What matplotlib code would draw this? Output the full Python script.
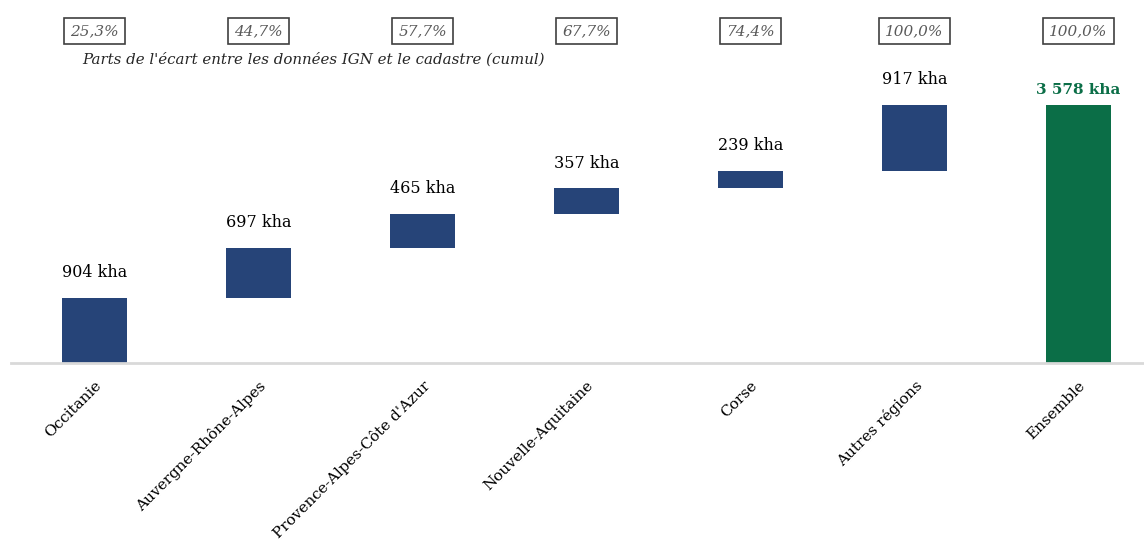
import numpy as np
import matplotlib.pyplot as plt
import matplotlib.transforms as mtransforms

# data
regions = ['Occitanie', 'Auvergne-Rhône-Alpes', "Provence-Alpes-Côte d'Azur",
           'Nouvelle-Aquitaine', 'Corse', 'Autres régions', 'Ensemble']
ecart_kha = [904, 697, 465, 357, 239, 917]
total_kha = 3578
parts_cumul = ['25,3%', '44,7%', '57,7%', '67,7%', '74,4%', '100,0%', '100,0%']

blue = '#264478'
green = '#0B6E47'
plt.rcParams['font.family'] = ['DejaVu Serif']

fig = plt.figure(figsize=(11.44, 5.43), dpi=100)
ax = fig.add_axes([11 / 1144, 180 / 543, 1 - 11 / 1144, 363 / 543])

x = np.arange(len(regions))
bottoms = np.concatenate([[0], np.cumsum(ecart_kha)[:-1]])
ax.bar(x[:-1], ecart_kha, bottom=bottoms, width=0.4, color=blue)
ax.bar(x[-1], total_kha, width=0.4, color=green)

for xi, b, v in zip(x[:-1], bottoms, ecart_kha):
    ax.annotate(f'{v} kha', (xi, b + v), xytext=(0, 12), textcoords='offset points',
                ha='center', va='bottom', fontsize=11.5)
tot = f'{total_kha:,}'.replace(',', ' ')
ax.annotate(f'{tot} kha', (x[-1], total_kha), xytext=(0, 6), textcoords='offset points',
            ha='center', va='bottom', fontsize=11, fontweight='bold', color=green)

ax.set_xlim(-0.51, 6.4)
ax.set_ylim(0, 363 / (258 / total_kha))
ax.set_yticks([])
for s in ['top', 'right', 'left']:
    ax.spines[s].set_visible(False)
ax.spines['bottom'].set_color('#D9D9D9')
ax.spines['bottom'].set_linewidth(2)
ax.set_xticks(x)
ax.set_xticklabels(regions, rotation=45, ha='right', rotation_mode='anchor', fontsize=11)
ax.tick_params(axis='x', length=0, pad=11)

# cumulative shares in boxes above the bars
trans = mtransforms.blended_transform_factory(ax.transData, fig.transFigure)
for xi, p in zip(x, parts_cumul):
    ax.text(xi, 1 - 31 / 543, p, transform=trans, ha='center', va='center',
            fontsize=11, style='italic', color='#595959',
            bbox=dict(boxstyle='square,pad=0.42', fc='white', ec='#404040', lw=1.2))
fig.text(313 / 1144, 1 - 59 / 543, "Parts de l'écart entre les données IGN et le cadastre (cumul)",
         ha='center', va='center', fontsize=10.8, style='italic', color='#262626')

fig.savefig('out.png', dpi=100)
